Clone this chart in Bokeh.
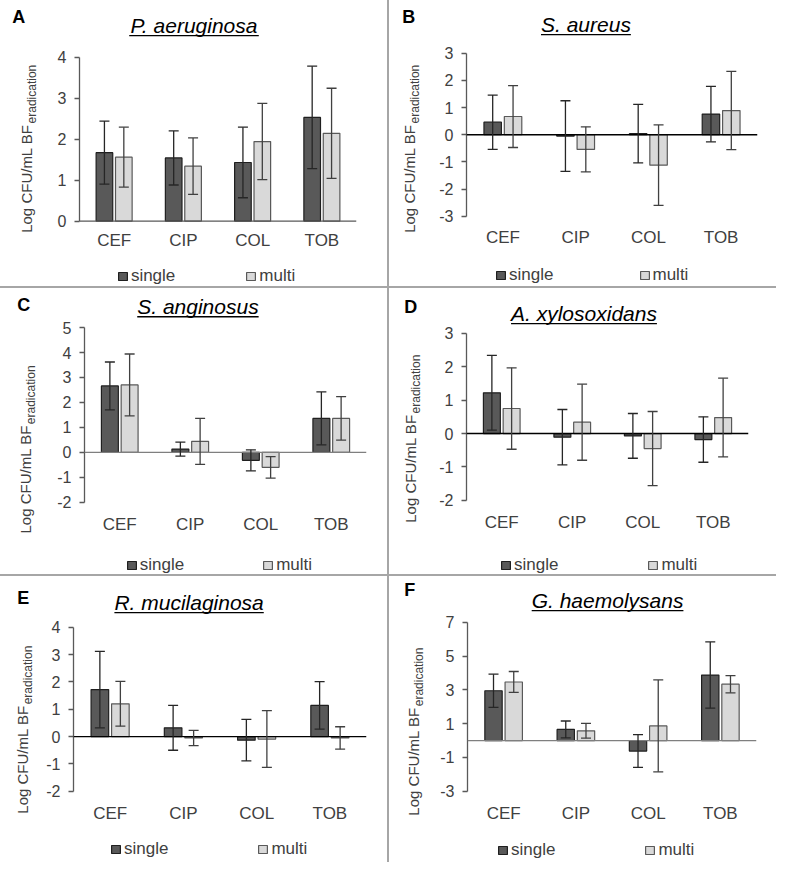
import math
from bokeh.plotting import figure
from bokeh.models import (FactorRange, Range1d, FixedTicker, ColumnDataSource, Whisker, TeeHead,
                          Span, Label, BoxAnnotation, Legend, LegendItem)
from bokeh.core.properties import value
from bokeh.transform import dodge
from bokeh.layouts import row, column
from bokeh.embed import file_html
from bokeh.resources import INLINE

# ---------------- data ----------------
categories = ["CEF", "CIP", "COL", "TOB"]
series_names = ["single", "multi"]

pa_single = [1.67, 1.54, 1.43, 2.53]
pa_single_sd = [0.77, 0.66, 0.86, 1.25]
pa_multi = [1.56, 1.34, 1.94, 2.14]
pa_multi_sd = [0.73, 0.69, 0.93, 1.10]
pa_ticks = [0, 1, 2, 3, 4]

sa_single = [0.46, -0.05, 0.04, 0.76]
sa_single_sd = [1.00, 1.30, 1.08, 1.02]
sa_multi = [0.67, -0.54, -1.12, 0.89]
sa_multi_sd = [1.14, 0.83, 1.48, 1.44]
sa_ticks = [-3, -2, -1, 0, 1, 2, 3]

sang_single = [2.66, 0.13, -0.32, 1.36]
sang_single_sd = [0.96, 0.28, 0.42, 1.06]
sang_multi = [2.70, 0.44, -0.60, 1.36]
sang_multi_sd = [1.24, 0.92, 0.43, 0.87]
sang_ticks = [-2, -1, 0, 1, 2, 3, 4, 5]

ax_single = [1.22, -0.11, -0.07, -0.18]
ax_single_sd = [1.12, 0.83, 0.67, 0.68]
ax_multi = [0.75, 0.34, -0.45, 0.48]
ax_multi_sd = [1.22, 1.14, 1.11, 1.18]
ax_ticks = [-2, -1, 0, 1, 2, 3]

rm_single = [1.72, 0.32, -0.13, 1.14]
rm_single_sd = [1.40, 0.82, 0.76, 0.87]
rm_multi = [1.20, -0.05, -0.09, -0.05]
rm_multi_sd = [0.82, 0.28, 1.04, 0.41]
rm_ticks = [-2, -1, 0, 1, 2, 3, 4]

gh_single = [2.95, 0.66, -0.62, 3.88]
gh_single_sd = [0.98, 0.50, 0.97, 1.96]
gh_multi = [3.47, 0.58, 0.87, 3.34]
gh_multi_sd = [0.62, 0.44, 2.72, 0.51]
gh_ticks = [-3, -1, 1, 3, 5, 7]

letters = ["A", "B", "C", "D", "E", "F"]
titles = ["P. aeruginosa", "S. aureus", "S. anginosus", "A. xylosoxidans", "R. mucilaginosa", "G. haemolysans"]
ylabel_main = "Log CFU/mL BF"
ylabel_sub = "eradication"

# ---------------- style ----------------
FONT = "Liberation Sans"
W, H = 387, 286          # one panel
LW = 40                  # width of the strip holding letter + y label
SX, SY = W / 394.0, H / 293.0
SINGLE_FILL, SINGLE_LINE = "#595959", "#1f1f1f"
MULTI_FILL, MULTI_LINE = "#d9d9d9", "#595959"
TXT = "#404040"
SEP = "#a6a6a6"
TITLE_SIZE = 21
LETTER_SIZE = 18
LEG_SIZE = 17
BASE_SHIFT = 0.35        # renderer puts the alphabetic baseline this many ems too low

# reference-pixel layout per panel: frame (l, r, t, b), letter (x, base), title (cx, base),
# y-label (xc, bottom), category-label centre y, legend (single x, multi x, centre y), zero-line colour
layout = [
    dict(frame=(80, 362, 58, 226), letter=(12, 23), title=(197, 33), ylab=(26, 238), caty=246, leg=(119, 250, 276), zero="#595959"),
    dict(frame=(78, 375, 54, 221), letter=(13, 23), title=(200, 32), ylab=(20, 238), caty=243, leg=(108, 254, 275), zero="#000000"),
    dict(frame=(86, 373, 40, 219), letter=(17, 23), title=(201, 26), ylab=(25, 251), caty=242, leg=(128, 267, 277), zero="#7f7f7f"),
    dict(frame=(78, 366, 46, 217), letter=(15, 25), title=(198, 33), ylab=(21, 240), caty=240, leg=(113, 263, 277), zero="#000000"),
    dict(frame=(74, 373, 52, 220), letter=(17, 28), title=(192, 34), ylab=(22, 243), caty=243, leg=(112, 262, 273), zero="#000000"),
    dict(frame=(79, 374, 47, 220), letter=(15, 20), title=(222, 32), ylab=(24, 245), caty=243, leg=(110, 260, 274), zero="#7f7f7f"),
]

ARIAL = {" ": 278, ".": 278, "/": 278, "A": 667, "B": 667, "C": 722, "F": 611, "G": 778, "L": 556,
         "P": 667, "R": 722, "S": 667, "U": 722, "a": 556, "b": 556, "c": 500, "d": 556, "e": 556,
         "g": 556, "h": 556, "i": 222, "l": 222, "m": 833, "n": 556, "o": 556, "r": 333, "s": 500,
         "t": 278, "u": 556, "x": 500, "y": 500}


def text_width(s, size):
    return sum(ARIAL.get(c, 556) for c in s) / 1000.0 * size


datasets = [
    (pa_single, pa_single_sd, pa_multi, pa_multi_sd, pa_ticks),
    (sa_single, sa_single_sd, sa_multi, sa_multi_sd, sa_ticks),
    (sang_single, sang_single_sd, sang_multi, sang_multi_sd, sang_ticks),
    (ax_single, ax_single_sd, ax_multi, ax_multi_sd, ax_ticks),
    (rm_single, rm_single_sd, rm_multi, rm_multi_sd, rm_ticks),
    (gh_single, gh_single_sd, gh_multi, gh_multi_sd, gh_ticks),
]


def make_label_fig(i):
    st = layout[i]
    f = figure(width=LW, height=H, x_range=Range1d(0, 1), y_range=Range1d(0, 1),
               x_axis_location=None, y_axis_location=None, output_backend="svg",
               toolbar_location=None, min_border=0)
    f.outline_line_color = None
    f.grid.visible = False
    f.background_fill_color = "white"
    f.border_fill_color = "white"
    lx, lyb = st["letter"]
    f.add_layout(Label(x=lx * SX, y=H - lyb * SY + BASE_SHIFT * LETTER_SIZE, x_units="screen",
                       y_units="screen", text=letters[i],
                       text_font=FONT, text_font_style="bold", text_font_size=f"{LETTER_SIZE}px",
                       text_color="#000000", text_align="left", text_baseline="alphabetic"))
    yxc, ybot = st["ylab"]
    x0, y0 = yxc * SX, H - ybot * SY
    f.add_layout(Label(x=x0, y=y0, x_units="screen", y_units="screen", text=ylabel_main,
                       angle=math.pi / 2, text_font=FONT, text_font_size="15px", text_color=TXT,
                       text_align="left", text_baseline="middle"))
    mw = text_width(ylabel_main, 15)
    f.add_layout(Label(x=x0 + 6, y=y0 + mw + 1, x_units="screen", y_units="screen",
                       text=ylabel_sub, angle=math.pi / 2, text_font=FONT, text_font_size="12px",
                       text_color=TXT, text_align="left", text_baseline="middle"))
    return f


def make_chart(i):
    single, single_sd, multi, multi_sd, ticks = datasets[i]
    st = layout[i]
    l, r, t, b = st["frame"]
    fl, fr, ft, fb = l * SX, r * SX, t * SY, b * SY
    mbl = int(round(fl - LW))
    mbr = int(round(W - fr))
    left_a = LW + mbl                   # frame left in panel coordinates
    lo, hi = min(ticks), max(ticks)
    per_px = (hi - lo) / (fb - ft)      # data units per pixel
    y_start = lo - (H - fb) * per_px    # frame covers the whole canvas height
    y_end = hi + ft * per_px

    p = figure(width=W - LW, height=H, x_range=FactorRange(*categories),
               y_range=Range1d(y_start, y_end), output_backend="svg", toolbar_location=None,
               x_axis_location=None)
    p.min_border_left = mbl
    p.min_border_right = mbr
    p.min_border_top = 0
    p.min_border_bottom = 0
    p.outline_line_color = None
    p.grid.visible = False
    p.background_fill_color = "white"
    p.border_fill_color = "white"

    ya = p.yaxis[0]
    ya.ticker = FixedTicker(ticks=ticks)
    ya.bounds = (lo, hi)
    ya.major_label_overrides = {tk: str(tk) for tk in ticks}
    ya.minor_tick_line_color = None
    ya.major_tick_out = 5
    ya.major_tick_in = 0
    ya.axis_line_color = "#595959"
    ya.major_tick_line_color = "#595959"
    ya.axis_line_width = 1.3
    ya.major_tick_line_width = 1.3
    ya.major_label_text_font = FONT
    ya.major_label_text_font_size = "16px"
    ya.major_label_text_color = TXT
    ya.major_label_standoff = 8

    src_s = ColumnDataSource(dict(cat=categories, val=single,
                                  upper=[v + e for v, e in zip(single, single_sd)],
                                  lower=[v - e for v, e in zip(single, single_sd)]))
    src_m = ColumnDataSource(dict(cat=categories, val=multi,
                                  upper=[v + e for v, e in zip(multi, multi_sd)],
                                  lower=[v - e for v, e in zip(multi, multi_sd)]))
    off, bw = 0.14, 0.24
    r1 = p.vbar(x=dodge("cat", -off, range=p.x_range), top="val", bottom=0, width=bw, source=src_s,
                fill_color=SINGLE_FILL, line_color=SINGLE_LINE, line_width=1.2)
    r2 = p.vbar(x=dodge("cat", off, range=p.x_range), top="val", bottom=0, width=bw, source=src_m,
                fill_color=MULTI_FILL, line_color=MULTI_LINE, line_width=1.2)

    p.add_layout(Span(location=0, dimension="width", line_color=st["zero"], line_width=1.4))

    for src, o, col in ((src_s, -off, "#262626"), (src_m, off, "#404040")):
        w = Whisker(base=dodge("cat", o, range=p.x_range), upper="upper", lower="lower", source=src,
                    line_color=col, line_width=1.3,
                    upper_head=TeeHead(size=10, line_color=col, line_width=1.3),
                    lower_head=TeeHead(size=10, line_color=col, line_width=1.3))
        w.level = "annotation"
        p.add_layout(w)

    # category labels under the plotting area, placed through the categorical scale
    cat_y = lo - (st["caty"] * SY - fb) * per_px
    p.text(x=categories, y=[cat_y] * len(categories), text=categories,
           text_font=value(FONT), text_font_size=value("17px"), text_color=TXT,
           text_align="center", text_baseline="middle")

    # title with underline
    tcx, tby = st["title"]
    tx = tcx * SX - left_a
    ty = H - tby * SY
    p.add_layout(Label(x=tx, y=ty + BASE_SHIFT * TITLE_SIZE, x_units="screen", y_units="screen",
                       text=titles[i], text_font=FONT, text_font_style="italic",
                       text_font_size=f"{TITLE_SIZE}px", text_color="#000000",
                       text_align="center", text_baseline="alphabetic"))
    tw = text_width(titles[i], TITLE_SIZE)
    uy = H - (tby + 3.0) * SY
    p.add_layout(BoxAnnotation(left=tx - tw / 2, right=tx + tw / 2, bottom=uy - 0.7, top=uy + 0.7,
                               left_units="screen", right_units="screen", top_units="screen",
                               bottom_units="screen", fill_color="#000000", fill_alpha=1.0,
                               line_color=None, level="annotation"))

    # legend
    sxl, mxl, lcy = st["leg"]
    item_w = 11 + 3 + text_width("single", LEG_SIZE)
    spacing = (mxl - sxl) * SX - item_w
    leg = Legend(items=[LegendItem(label=series_names[0], renderers=[r1]),
                        LegendItem(label=series_names[1], renderers=[r2])],
                 orientation="horizontal", location=(sxl * SX - left_a, H - lcy * SY - 17),
                 spacing=int(round(spacing)), glyph_width=11, glyph_height=10, label_standoff=3,
                 label_text_font=FONT, label_text_font_size=f"{LEG_SIZE}px", label_text_color=TXT,
                 border_line_color=None, background_fill_alpha=0, padding=0, margin=0)
    p.add_layout(leg)
    return p


panels = [row(make_label_fig(i), make_chart(i), styles={"background-color": "white"}) for i in range(6)]
root = column(row(panels[0], panels[1], spacing=2),
              row(panels[2], panels[3], spacing=2),
              row(panels[4], panels[5], spacing=2),
              spacing=2, styles={"background-color": SEP})

open("out.html", "w").write(file_html(root, INLINE))
